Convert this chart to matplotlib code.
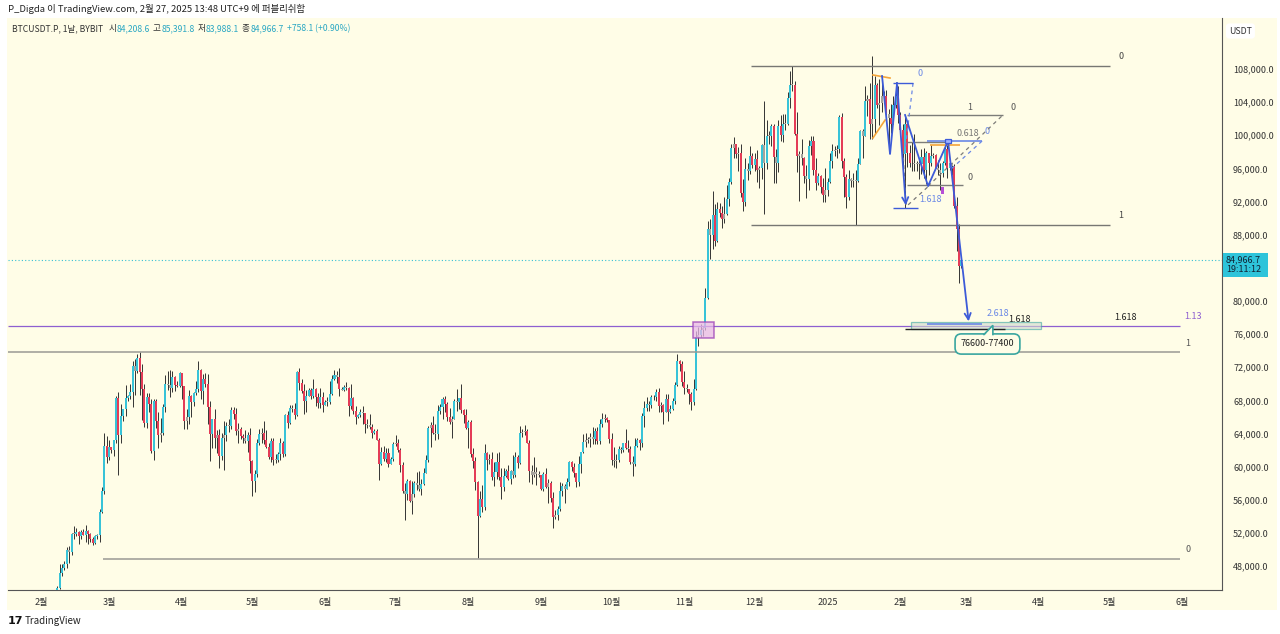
import numpy as np
import matplotlib
matplotlib.use('Agg')
import matplotlib.pyplot as plt
from matplotlib.patches import Rectangle, Polygon

# ---------------- DATA (daily candles, values in thousand USDT: high, low, close) -------------
first_open = 42.58
feb24 = [(43.3,41.9,43.08),(43.5,42.6,43.19),(43.4,42.9,43.0),(43.1,42.3,42.58),(43.5,42.2,42.66),
         (43.4,42.6,43.09),(44.5,42.8,44.34),(45.6,44.3,45.3),(48.2,45.2,47.14),(48.2,46.8,47.77),
         (48.6,47.5,48.29),(50.3,47.7,49.96),(50.4,48.3,49.7),(52.0,49.3,51.83),(52.8,51.3,51.9),
         (52.6,51.6,52.15),(52.2,50.6,51.66),(52.4,51.2,52.12),(52.5,51.7,51.78),(52.9,50.9,52.27),
         (52.4,50.7,51.84),(52.0,50.9,51.3),(51.5,50.5,50.74),(51.7,50.6,51.57),(51.9,51.3,51.73),
         (54.9,50.9,54.48),(57.5,54.4,57.05),(64.0,56.7,62.5),(63.7,60.4,61.2)]
mar24 = [(63.2,60.8,62.4),(62.4,61.6,62.03),(63.2,61.3,63.17),(68.5,62.9,68.33),(69.0,59.0,63.8),
         (67.6,62.8,66.1),(67.0,65.5,66.93),(69.9,66.1,68.3),(68.6,67.9,68.5),(70.0,68.2,69.02),
         (72.8,67.2,72.12),(73.0,68.6,71.48),(73.6,71.3,73.1),(73.8,68.6,71.4),(72.4,65.6,69.4),
         (70.0,64.8,65.3),(68.9,64.6,68.4),(68.9,66.6,67.6),(68.1,61.6,61.9),(68.1,60.8,67.9),
         (68.2,64.6,65.5),(66.6,62.3,63.8),(65.9,63.0,64.1),(67.6,63.8,67.2),(71.1,66.6,70.0),
         (71.5,69.3,69.9),(71.7,68.4,69.5),(71.5,69.0,70.8),(70.9,69.1,69.9),(70.3,69.6,69.7),
         (71.4,69.6,71.3)]
apr24 = [(71.3,68.1,69.7),(69.7,64.5,65.5),(66.9,64.5,65.98),(69.3,65.1,68.5),(68.7,66.0,67.84),
         (69.0,67.3,68.9),(70.3,68.7,69.36),(72.8,69.0,71.62),(71.8,68.2,69.14),(71.2,67.5,70.6),
         (71.3,69.6,70.01),(71.2,65.1,67.2),(67.9,60.7,63.9),(65.8,62.2,65.7),(66.9,62.3,63.45),
         (64.4,61.7,63.8),(64.5,59.8,61.3),(64.1,60.8,63.5),(65.5,59.6,63.8),(65.4,63.1,64.95),
         (65.7,64.2,64.92),(67.2,64.5,66.8),(67.2,65.8,66.4),(67.1,63.8,64.3),(65.3,62.8,64.5),
         (64.8,63.3,63.75),(63.9,62.8,63.42),(64.4,62.9,63.11),(64.2,61.8,63.84),(64.7,59.2,60.63)]
may24 = [(60.8,56.5,58.25),(59.6,56.9,59.12),(63.3,58.8,62.89),(64.5,62.6,63.89),(64.6,62.9,64.03),
         (65.5,62.7,63.16),(64.4,62.3,62.33),(62.9,60.9,61.19),(63.4,60.6,63.05),(63.5,60.2,60.79),
         (61.5,60.4,60.83),(61.8,60.6,61.48),(63.4,60.8,62.9),(63.1,61.1,61.55),(66.4,61.3,66.25),
         (66.7,64.6,65.23),(67.4,65.1,67.05),(67.4,66.6,66.94),(67.7,65.8,66.28),(71.5,66.1,71.45),
         (71.9,69.2,70.14),(70.6,68.9,69.12),(70.0,66.3,67.93),(69.2,66.6,68.53),(69.5,68.5,69.26),
         (69.5,68.2,68.5),(70.6,68.3,69.39),(69.5,67.3,68.37),(68.9,67.1,67.63),(69.5,67.1,68.35),
         (69.0,66.6,67.48)]
jun24 = [(68.0,67.4,67.76),(68.4,67.3,67.76),(70.3,67.6,68.8),(71.0,68.6,70.56),(71.7,70.4,71.08),
         (71.6,70.1,70.79),(71.9,68.5,69.35),(69.6,69.2,69.3),(69.9,69.1,69.65),(70.2,69.2,69.5),
         (69.6,66.1,67.32),(70.0,66.9,68.24),(68.4,66.3,66.75),(67.3,65.1,66.0),(66.4,65.9,66.19),
         (66.9,66.0,66.64),(67.3,65.1,66.49),(66.5,64.1,65.15),(65.7,64.7,64.96),(66.4,64.5,64.83),
         (65.1,63.4,64.1),(64.5,63.9,64.25),(64.5,63.2,63.18),(63.4,58.4,60.27),(62.4,60.2,61.8),
         (62.5,60.7,60.86),(62.3,60.6,61.67),(62.2,60.0,60.32),(61.2,60.3,60.88),(63.0,60.7,62.67)]
jul24 = [(63.8,62.5,62.85),(63.3,61.8,62.03),(62.3,59.4,60.2),(60.5,56.8,57.04),(58.0,53.5,56.66),
         (58.5,56.0,58.23),(58.4,55.7,55.85),(58.2,54.3,56.7),(58.3,56.3,58.05),(59.4,57.2,57.72),
         (59.5,57.0,57.34),(58.5,56.6,57.89),(59.8,57.8,59.2),(61.4,59.2,60.8),(64.9,60.6,64.7),
         (65.4,62.4,65.08),(66.1,63.9,64.1),(65.1,63.2,63.97),(67.4,63.3,66.7),(67.6,66.4,67.15),
         (68.4,65.8,68.17),(68.5,66.6,67.56),(67.8,65.5,65.93),(67.1,65.1,65.37),(66.1,63.4,65.79),
         (68.2,65.7,67.91),(69.4,66.7,67.8),(68.3,67.0,68.24),(70.0,66.5,66.8),(66.9,65.3,66.2),
         (66.9,64.5,64.62)]
aug24 = [(65.6,62.3,65.35),(65.6,61.2,61.5),(62.2,59.8,60.68),(61.1,57.2,58.11),(58.3,49.0,53.99),
         (57.1,53.9,56.03),(57.8,54.5,55.13),(62.7,54.8,61.68),(61.8,59.6,60.83),(61.5,60.3,60.9),
         (61.8,58.4,58.71),(60.6,57.7,59.35),(61.6,58.5,60.6),(61.8,58.4,58.74),(59.8,56.1,57.56),
         (59.8,57.1,58.87),(59.7,58.8,59.48),(60.2,58.4,58.45),(59.6,57.9,59.49),(61.4,58.6,59.01),
         (61.8,58.8,61.16),(61.4,59.8,60.38),(64.9,60.3,64.09),(64.5,63.6,64.18),(65.0,63.8,64.25),
         (64.5,62.8,62.83),(63.2,58.1,59.42),(60.2,57.9,59.03),(61.2,58.8,59.39),(59.9,57.8,59.12),
         (59.5,58.8,58.97)]
sep24 = [(59.0,57.2,57.32),(59.4,57.1,59.13),(59.8,57.4,57.48),(58.5,55.6,57.97),(58.3,55.7,56.16),
         (56.9,52.6,53.96),(54.8,53.7,54.16),(55.3,53.6,54.87),(58.1,54.6,57.04),(58.0,56.4,57.65),
         (57.9,55.6,57.34),(58.6,57.3,58.13),(60.7,57.6,60.57),(60.7,59.5,60.0),(60.4,58.7,59.18),
         (59.2,57.5,58.19),(61.3,57.6,60.31),(61.8,59.2,61.76),(63.9,61.6,62.95),(64.1,62.4,63.2),
         (63.6,62.8,63.35),(64.0,62.4,63.58),(64.8,62.7,63.34),(64.7,62.7,64.26),(64.8,62.7,63.14),
         (65.8,62.7,65.18),(66.5,64.8,65.79),(66.3,65.4,65.88),(66.0,65.4,65.6),(65.6,62.9,63.33)]
oct24 = [(64.1,60.2,60.8),(62.4,59.9,60.63),(61.5,59.8,60.75),(62.5,60.5,62.08),(62.4,61.7,62.06),
         (62.9,61.8,62.82),(64.5,62.1,62.22),(63.2,61.8,62.13),(62.5,60.3,60.58),(61.3,58.9,60.27),
         (63.4,60.1,62.45),(63.4,62.4,63.19),(63.3,62.0,62.85),(66.5,62.4,66.05),(67.9,64.8,67.04),
         (68.4,66.7,67.61),(67.9,66.7,67.39),(68.7,67.1,68.39),(68.7,68.0,68.36),(69.4,67.9,69.0),
         (69.5,66.6,67.37),(67.8,66.6,67.38),(67.5,65.2,66.65),(68.8,66.6,68.17),(68.8,65.5,66.64),
         (67.4,66.5,67.01),(68.3,66.8,67.93),(70.2,67.5,69.9),(73.6,69.7,72.7),(72.9,71.5,72.33),
         (72.7,69.7,70.22)]
nov24 = [(71.6,68.8,69.48),(70.0,69.0,69.33),(69.4,67.5,68.74),(69.0,66.8,67.81),(70.6,67.4,69.37),
         (76.4,69.3,75.6),(76.8,74.5,75.9),(77.2,75.6,76.53),(76.9,75.8,76.68),(81.5,76.5,80.4),
         (89.6,80.2,88.7),(89.9,85.1,87.95),(93.3,86.3,90.4),(91.7,86.6,87.25),(91.9,87.1,91.1),
         (91.8,90.1,90.6),(91.4,88.8,89.85),(92.6,89.4,90.5),(94.0,90.4,92.3),(94.9,91.5,94.3),
         (99.0,94.1,98.5),(99.8,97.2,98.95),(98.8,97.2,97.7),(98.6,95.7,97.9),(98.9,92.6,93.0),
         (94.7,90.8,91.95),(97.3,91.5,95.9),(96.6,94.6,95.64),(98.7,95.3,97.46),(97.8,96.1,96.4)]
dec24 = [(97.9,95.7,97.19),(98.2,94.4,95.86),(96.3,93.6,96.0),(99.0,94.7,98.77),(104.1,90.5,96.6),
         (101.9,95.9,99.9),(100.5,99.0,99.9),(101.4,98.7,101.17),(101.3,94.2,97.33),(98.3,94.2,96.6),
         (101.9,95.6,101.15),(102.5,99.3,100.0),(102.6,99.2,101.42),(102.6,100.6,101.4),(105.2,101.2,104.45),
         (107.8,103.3,106.05),(108.35,105.3,106.1),(106.5,100.0,100.2),(102.8,95.6,97.46),(98.1,92.1,97.76),
         (99.5,96.4,97.22),(97.4,94.2,95.1),(96.4,92.4,94.7),(99.4,93.4,98.7),(99.9,97.6,99.3),
         (99.9,95.2,95.8),(97.3,93.4,94.2),(95.5,94.0,95.1),(95.2,93.0,93.7),(94.9,91.9,92.8),
         (96.1,92.0,93.4)]
jan25 = [(94.9,92.7,94.4),(97.8,94.2,96.9),(98.9,96.0,98.1),(98.7,97.5,98.2),(98.8,97.2,98.3),
         (102.4,97.9,102.2),(102.7,96.1,96.9),(97.2,92.5,95.0),(95.3,91.2,92.5),(95.8,92.2,94.7),
         (94.9,93.8,94.5),(95.4,93.7,94.5),(95.8,89.2,94.5),(97.3,94.3,96.5),(100.6,96.5,100.5),
         (100.8,97.3,99.9),(105.9,99.9,104.1),(104.9,102.3,104.4),(106.3,99.6,101.3),(109.6,99.5,102.0),
         (107.2,100.1,106.1),(106.3,103.3,103.6),(106.8,101.2,103.9),(107.1,102.8,104.8),(105.3,104.1,104.7),
         (105.5,102.5,102.6),(103.2,97.8,102.1),(103.8,100.3,101.3),(104.8,101.3,103.7),(106.4,103.3,104.7),
         (106.0,101.5,102.4)]
feb25 = [(102.8,100.3,100.6),(101.4,96.2,97.7),(102.5,91.2,101.4),(101.7,96.2,97.8),(98.8,96.2,96.6),
         (99.2,95.7,96.6),(100.1,95.7,96.5),(96.9,95.7,96.5),(97.3,94.7,96.5),(98.3,95.3,97.4),
         (98.5,94.9,95.8),(98.1,94.1,97.9),(97.9,95.2,96.6),(98.8,96.3,97.5),(97.9,97.2,97.6),
         (97.7,96.0,96.1),(97.0,95.2,95.8),(96.7,93.4,95.5),(96.9,95.0,96.6),(98.7,96.4,98.3),
         (99.5,94.8,96.1),(96.9,95.8,96.6),(96.7,95.2,96.3),(96.5,91.2,91.5),(92.5,86.0,88.7),
         (89.3,82.2,84.2),(85.3918,83.9881,84.9667)]

last_price = 84966.7
month_ticks = [0, 29, 60, 90, 121, 151, 182, 213, 243, 274, 304, 335, 366, 394, 425, 455, 486]
month_labels = ['2월', '3월', '4월', '5월', '6월', '7월', '8월', '9월', '10월', '11월', '12월',
                '2025', '2월', '3월', '4월', '5월', '6월']
price_ticks = [v for v in range(48000, 108001, 4000) if v != 84000]

# drawing anchors (day index from 2024-02-01, price in thousand USDT)
fib_top = {'0': 108.35, '1': 89.2, '1.618': 77.45}
fib_low = {'0': 48.9, '1': 73.8, '1.13': 77.0}
zone_box = (76.6, 77.4, '76600-77400')
purple_box = (277.7, 286.6, 75.5, 77.45)
zig1 = [(358.2, 107.15), (361.6, 97.74), (364.6, 106.31), (368.4, 91.2)]
zig2 = [(368.0, 102.45), (377.8, 93.87), (386.3, 99.3), (395.2, 77.2)]
fib2 = {'1': 102.45, '0.618': 99.19, '0': 94.0}

# ---------------- BUILD ----------------
rows = feb24 + mar24 + apr24 + may24 + jun24 + jul24 + aug24 + sep24 + oct24 + nov24 + dec24 + jan25 + feb25
hi = np.array([r[0] for r in rows]) * 1000
lo = np.array([r[1] for r in rows]) * 1000
cl = np.array([r[2] for r in rows]) * 1000
op = np.concatenate([[first_open * 1000], cl[:-1]])
x = np.arange(len(rows))

W, H = 1280, 634
CREAM = '#fffde7'
UP, DN, NEU = '#38c3d8', '#e43c57', '#a5a39d'
WICK = '#333333'
BLUE = '#3d5bd8'
LBLUE = '#6a88e6'
PURP = '#8e5fd0'
TEAL = '#3aa6a0'
KR = ['Noto Sans CJK KR', 'DejaVu Sans']
plt.rcParams['font.family'] = KR

fig = plt.figure(figsize=(W / 100, H / 100), dpi=100)
fig.patch.set_facecolor('white')
fig.add_artist(Rectangle((7 / W, 1 - 610 / H), (1277 - 7) / W, (610 - 18) / H,
                         transform=fig.transFigure, facecolor=CREAM, edgecolor='none', zorder=0))

ax = fig.add_axes([8 / W, 1 - 590 / H, (1222 - 8) / W, (590 - 18) / H])
ax.set_facecolor(CREAM)
ax.set_xlim(-14.05, 502.98)
ax.set_ylim(45100, 114157)

# candles
rng = hi - lo
body = np.abs(cl - op)
colors = np.where(body < 0.22 * rng, NEU, np.where(cl >= op, UP, DN))
ax.vlines(x, lo, hi, color=WICK, lw=0.7, zorder=2)
ax.bar(x, np.maximum(body, 100), bottom=np.minimum(op, cl), width=0.86, color=colors,
       linewidth=0, zorder=3)

K = 1000
# top fib
ax.hlines([fib_top['0'] * K, fib_top['1'] * K], 302.4, 455.3, color='#777773', lw=1.0, zorder=4)
ax.text(458.7, fib_top['0'] * K + 1100, '0', fontsize=6.5, color='#444', ha='left', va='center')
ax.text(458.7, fib_top['1'] * K + 1100, '1', fontsize=6.5, color='#444', ha='left', va='center')
ax.text(461.7, fib_top['1.618'] * K + 600, '1.618', fontsize=6.5, color='#222', ha='center', va='center')

# lower fib (Aug low -> Mar high)
ax.hlines(fib_low['1.13'] * K, -14.05, 485.1, color=PURP, lw=0.9, zorder=4)
ax.hlines(fib_low['1'] * K, -14.05, 485.1, color='#9a9994', lw=1.1, zorder=4)
ax.hlines(fib_low['0'] * K, 26.4, 485.1, color='#9a9994', lw=1.1, zorder=4)
ax.text(490.6, fib_low['1.13'] * K + 1100, '1.13', fontsize=6.5, color=PURP, ha='center', va='center')
ax.text(488.5, fib_low['1'] * K + 1100, '1', fontsize=6.5, color='#555', ha='center', va='center')
ax.text(488.5, fib_low['0'] * K + 1100, '0', fontsize=6.5, color='#555', ha='center', va='center')

# purple breakout box
ax.add_patch(Rectangle((purple_box[0], purple_box[2] * K), purple_box[1] - purple_box[0],
                       (purple_box[3] - purple_box[2]) * K, facecolor='#e7b8e8', alpha=0.75,
                       edgecolor='#9b3fb5', lw=1.1, zorder=5))

# current price line
ax.axhline(last_price, color='#36c0d4', lw=0.8, ls=(0, (1, 2)), zorder=1)

# orange wedge lines
ax.plot([354.3, 361.6], [107.28 * K, 106.91 * K], color='#f5a53a', lw=1.2, zorder=6)
ax.plot([354.3, 359.5], [99.67 * K, 101.84 * K], color='#f5a53a', lw=1.2, zorder=6)

# zigzag 1
zx, zy = zip(*zig1)
ax.plot(zx[:3], [v * K for v in zy[:3]], color=BLUE, lw=1.3, zorder=7)
ax.annotate('', xy=(zx[3], zy[3] * K), xytext=(zx[2], zy[2] * K),
            arrowprops=dict(arrowstyle='->', color=BLUE, lw=1.3, mutation_scale=11), zorder=7)
ax.hlines(zy[2] * K, 362.9, 371.4, color=BLUE, lw=1.0, zorder=7)
ax.hlines(zy[3] * K, 362.9, 373.5, color=BLUE, lw=1.0, zorder=7)
ax.text(374.4, 107.4 * K, '0', fontsize=6.5, color=LBLUE, ha='center', va='center')
ax.text(373.9, 92.2 * K, '1.618', fontsize=6.5, color=LBLUE, ha='left', va='center')
ax.plot([371.4, 368.0], [106.3 * K, 98.2 * K], color=LBLUE, lw=0.9, ls=(0, (3, 3)), zorder=6)
ax.plot([367.1, 368.4], [98.2 * K, 91.6 * K], color='#777', lw=0.9, ls=(0, (3, 3)), zorder=6)
ax.plot([369.3, 378.2], [91.6 * K, 93.9 * K], color='#777', lw=0.9, ls=(0, (3, 3)), zorder=6)

# second fib
ax.hlines(fib2['1'] * K, 368.8, 409.7, color='#7d7d79', lw=1.0, zorder=5)
ax.hlines(fib2['0.618'] * K, 368.8, 385.9, color='#7d7d79', lw=1.0, zorder=5)
ax.hlines(fib2['0'] * K, 368.8, 392.7, color='#7d7d79', lw=1.0, zorder=5)
ax.hlines(99.3 * K, 377.3, 400.8, color=LBLUE, lw=1.2, zorder=6)
ax.hlines(98.8 * K, 378.6, 391.4, color='#f5a53a', lw=1.2, zorder=6)
ax.text(395.7, 103.4 * K, '1', fontsize=6.5, color='#555', ha='center', va='center')
ax.text(414.0, 103.4 * K, '0', fontsize=6.5, color='#555', ha='center', va='center')
ax.text(394.8, 100.27 * K, '0.618', fontsize=6.5, color='#777', ha='center', va='center')
ax.text(402.9, 100.5 * K, '0', fontsize=6.5, color=LBLUE, ha='center', va='center')
ax.text(395.7, 94.96 * K, '0', fontsize=6.5, color='#555', ha='center', va='center')
ax.plot([377.8, 409.7], [93.87 * K, 102.45 * K], color='#7d7d79', lw=0.9, ls=(0, (3, 3)), zorder=6)
ax.plot([400.8, 387.1], [99.3 * K, 95.8 * K], color=LBLUE, lw=0.9, ls=(0, (3, 3)), zorder=6)

# zigzag 2
zx2, zy2 = zip(*zig2)
ax.plot(zx2[:3], [v * K for v in zy2[:3]], color=BLUE, lw=1.3, zorder=7)
ax.annotate('', xy=(zx2[3], zy2[3] * K), xytext=(zx2[2], zy2[2] * K),
            arrowprops=dict(arrowstyle='->', color=BLUE, lw=1.3, mutation_scale=11), zorder=7)
ax.add_patch(Rectangle((zx2[2] - 1.1, zy2[2] * K - 250), 2.2, 500, facecolor='#9fb3ff',
                       edgecolor=BLUE, lw=0.9, zorder=8))
ax.add_patch(Rectangle((383.2, 92.9 * K), 1.2, 900, facecolor='#b64fd6', edgecolor='none', zorder=8))

# target zone
ax.add_patch(Rectangle((370.5, zone_box[0] * K), 55.4, (zone_box[1] - zone_box[0]) * K,
                       facecolor='#cfd9cf', alpha=0.6, edgecolor=TEAL, lw=0.9, zorder=6))
ax.hlines(76.6 * K, 368.0, 410.6, color='#222', lw=1.0, zorder=7)
ax.hlines(77.21 * K, 377.3, 400.8, color=LBLUE, lw=1.2, zorder=7)
ax.text(407.6, 78.45 * K, '2.618', fontsize=6.5, color=LBLUE, ha='center', va='center')
ax.text(416.9, 77.75 * K, '1.618', fontsize=6.5, color='#222', ha='center', va='center')
# callout
ax.text(403.1, 74.8 * K, zone_box[2], fontsize=6.5, color='#222', ha='center', va='center', zorder=9,
        bbox=dict(boxstyle='round,pad=0.62,rounding_size=0.7', facecolor=CREAM, edgecolor=TEAL, lw=1.2))
ax.add_patch(Polygon([(401.6, 75.75 * K), (405.4, 77.05 * K), (405.4, 75.75 * K)], closed=True,
                     facecolor=CREAM, edgecolor='none', zorder=10))
ax.plot([401.6, 405.4, 405.4], [75.95 * K, 77.05 * K, 75.95 * K], color=TEAL, lw=1.2, zorder=11,
        solid_joinstyle='miter')

# axes styling
for s in ['top', 'left']:
    ax.spines[s].set_visible(False)
ax.spines['right'].set_color('#555')
ax.spines['bottom'].set_color('#555')
ax.yaxis.tick_right()
ax.set_yticks(price_ticks)
ax.set_yticklabels([f'{v:,.1f}' for v in price_ticks], fontsize=6.5, color='#333')
ax.tick_params(axis='y', length=0, pad=8)
ax.set_xticks(month_ticks)
ax.set_xticklabels(month_labels, fontsize=6.5, color='#333')
ax.tick_params(axis='x', length=0, pad=6)

# header / footer texts (figure pixel positions)
def ftxt(px, py, s, **kw):
    return fig.text(px / W, 1 - py / H, s, **kw)

# last price label on axis
fig.add_artist(Rectangle((1223 / W, 1 - 277 / H), 45 / W, 24 / H, transform=fig.transFigure,
                         facecolor='#2ec4da', edgecolor='none', zorder=20))
ftxt(1226, 260, '84,966.7', fontsize=6.5, color='#123', va='center', zorder=21)
ftxt(1226, 270, '19:11:12', fontsize=6.5, color='#123', va='center', zorder=21)

ftxt(8, 9, 'P_Digda 이 TradingView.com, 2월 27, 2025 13:48 UTC+9 에 퍼블리쉬함', fontsize=6.8,
     color='#222', va='center', ha='left')

TV = '#2aa7c3'
renderer = fig.canvas.get_renderer()
pieces = [('BTCUSDT.P, 1날, BYBIT', '#333', 5), ('시', '#333', 0.5), ('84,208.6', TV, 3),
          ('고', '#333', 0.5), ('85,391.8', TV, 3), ('저', '#333', 0.5), ('83,988.1', TV, 3),
          ('종', '#333', 0.5), ('84,966.7', TV, 3), ('+758.1 (+0.90%)', TV, 0)]
xpos = 12
for s, c, gap in pieces:
    t = ftxt(xpos, 29, s, fontsize=6.2, color=c, va='center', ha='left')
    bb = t.get_window_extent(renderer=renderer)
    xpos = bb.x1 + gap

ftxt(1229, 31, 'USDT', fontsize=6.3, color='#333', va='center',
     bbox=dict(facecolor='white', edgecolor='none', boxstyle='round,pad=0.35'))
ftxt(8, 621, '17', fontsize=8, color='#111', va='center', fontweight='bold', family='DejaVu Sans')
ftxt(25, 621, 'TradingView', fontsize=7, color='#222', va='center')

fig.savefig('out.png', dpi=100, facecolor='white')
